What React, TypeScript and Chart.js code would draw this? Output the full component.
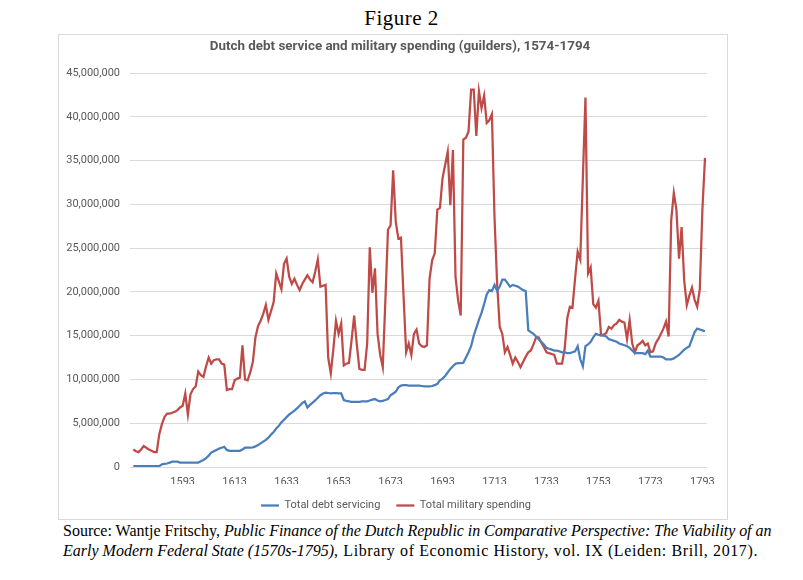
import { useEffect, useRef } from "react";
import { Chart, registerables } from "chart.js";

Chart.register(...registerables);

// Years covered by both series (one value per year)
const firstYear = 1574;
const lastYear = 1794;
const years: number[] = [];
for (let y = firstYear; y <= lastYear; y++) years.push(y);

// Years shown as labels on the horizontal axis
const tickYears = [1593, 1613, 1633, 1653, 1673, 1693, 1713, 1733, 1753, 1773, 1793];

// Total debt servicing, millions of guilders, 1574-1794
const debtServicing = [
  0.1, 0.1, 0.1, 0.1, 0.1, 0.1, 0.1, 0.1, 0.1, 0.1,
  0.1, 0.3, 0.35, 0.4, 0.5, 0.6, 0.6, 0.6, 0.5, 0.5,
  0.5, 0.5, 0.5, 0.5, 0.5, 0.5, 0.65, 0.8, 1.0, 1.3,
  1.65, 1.8, 1.95, 2.1, 2.2, 2.3, 1.95, 1.85, 1.83, 1.83,
  1.83, 1.85, 2.0, 2.2, 2.2, 2.2, 2.25, 2.35, 2.5, 2.7,
  2.9, 3.1, 3.35, 3.7, 4.0, 4.4, 4.7, 5.1, 5.4, 5.7,
  6.0, 6.2, 6.45, 6.7, 7.0, 7.3, 7.5, 6.8, 7.1, 7.35,
  7.6, 7.9, 8.2, 8.4, 8.5, 8.45, 8.4, 8.45, 8.45, 8.4,
  8.4, 7.65, 7.55, 7.5, 7.45, 7.45, 7.45, 7.45, 7.5, 7.5,
  7.5, 7.6, 7.7, 7.76, 7.6, 7.5, 7.55, 7.65, 7.76, 8.2,
  8.4, 8.6, 9.1, 9.3, 9.35, 9.35, 9.3, 9.3, 9.3, 9.3,
  9.3, 9.25, 9.2, 9.2, 9.2, 9.25, 9.35, 9.5, 9.9, 10.1,
  10.4, 10.8, 11.2, 11.5, 11.8, 11.85, 11.85, 11.9, 12.5, 13.1,
  13.8, 15.0, 15.9, 16.8, 17.6, 18.6, 19.7, 20.2, 20.1, 20.8,
  20.1, 20.6, 21.4, 21.4, 21.0, 20.6, 20.8, 20.7, 20.6, 20.4,
  20.2, 20.1, 15.6, 15.4, 15.2, 14.9, 14.6, 14.3, 14.0, 13.6,
  13.5, 13.4, 13.3, 13.3, 13.2, 13.1, 13.1, 13.0, 13.0, 13.1,
  13.2, 13.8, 12.3, 11.5, 13.8, 14.0, 14.3, 14.8, 15.2, 15.1,
  15.0, 15.0, 14.9, 14.6, 14.5, 14.4, 14.3, 14.1, 14.0, 13.9,
  13.8, 13.6, 13.3, 13.0, 13.0, 13.0, 13.0, 12.9, 13.3, 12.6,
  12.6, 12.6, 12.6, 12.6, 12.5, 12.3, 12.3, 12.3, 12.4, 12.6,
  12.8, 13.1, 13.4, 13.6, 13.8, 14.6, 15.4, 15.8, 15.7, 15.6,
  15.5,
];

// Total military spending, millions of guilders, 1574-1794
const militarySpending = [
  2.0, 1.8, 1.7, 2.0, 2.4, 2.2, 2.0, 1.85, 1.7, 1.7,
  3.75, 4.9, 5.7, 6.1, 6.1, 6.2, 6.3, 6.5, 6.8, 7.0,
  8.4, 6.0, 8.3, 8.9, 9.2, 10.9, 10.5, 10.3, 11.5, 12.5,
  11.8, 12.2, 12.3, 12.3, 11.8, 11.7, 8.8, 8.9, 8.9, 9.9,
  10.1, 10.2, 13.9, 10.0, 9.9, 10.8, 12.0, 14.8, 16.1, 16.7,
  17.5, 18.5, 16.8, 17.8, 18.8, 22.1, 21.2, 20.3, 23.2, 23.8,
  21.7, 20.9, 21.5, 20.8, 20.2, 20.9, 21.4, 21.9, 21.4, 21.1,
  22.3, 23.7, 20.6, 20.7, 20.8, 12.5, 10.7, 13.5, 16.7, 15.2,
  16.4, 11.6, 11.8, 11.9, 14.5, 17.3, 14.0, 11.2, 11.1, 11.1,
  14.1, 25.1, 19.9, 22.7, 15.2, 12.8, 11.4, 19.0, 27.1, 27.6,
  33.9, 28.0, 26.1, 26.2, 19.5, 13.1, 14.1, 12.8, 15.2, 15.7,
  14.1, 13.8, 13.7, 13.9, 21.5, 23.6, 24.4, 29.4, 29.6, 33.0,
  34.5, 36.0, 29.9, 36.2, 21.7, 19.0, 17.3, 37.4, 37.6, 38.3,
  43.1, 43.1, 37.8, 42.9, 41.0, 42.4, 39.3, 39.6, 40.3, 28.5,
  21.0, 16.0, 15.2, 13.1, 13.7, 12.8, 11.8, 12.5, 12.0, 11.4,
  12.0, 12.6, 13.1, 13.3, 14.0, 14.8, 14.8, 14.2, 13.7, 13.1,
  13.0, 12.9, 12.8, 11.8, 11.8, 11.8, 13.5, 17.0, 18.3, 18.2,
  21.5, 24.6, 23.7, 33.0, 42.2, 22.1, 22.8, 18.6, 18.2, 19.0,
  15.1, 15.1, 15.3, 16.0, 15.8, 16.2, 16.4, 16.8, 16.6, 16.5,
  14.6, 16.8, 14.1, 13.1, 13.9, 14.1, 14.4, 13.9, 14.1, 13.1,
  13.2, 14.1, 14.6, 15.2, 15.8, 16.6, 14.9, 28.2, 31.3, 29.4,
  23.8, 27.4, 21.3, 18.5, 19.6, 20.5, 19.1, 18.3, 20.3, 29.4,
  35.3,
];

const MILLION = 1000000;
const axisColor = "#595959";
const gridColor = "#D9D9D9";
const sansFamily = "Roboto, 'Liberation Sans', sans-serif";
const serifFamily = "'Liberation Serif', 'DejaVu Serif', serif";

// Moves the legend row sideways after layout so it sits centred under the frame
const legendOffset = {
  id: "legendOffset",
  afterLayout(chart: any) {
    const legend = chart.legend;
    if (legend) {
      legend.left += 13;
      legend.right += 13;
    }
  },
};

function DebtChart() {
  const canvasRef = useRef<HTMLCanvasElement | null>(null);

  useEffect(() => {
    const canvas = canvasRef.current;
    if (!canvas) return;
    const chart = new Chart(canvas, {
      type: "line",
      data: {
        datasets: [
          {
            label: "Total debt servicing",
            data: years.map((year, i) => ({ x: year, y: debtServicing[i] * MILLION })),
            borderColor: "#4A7EBB",
            backgroundColor: "#4A7EBB",
            borderWidth: 2.25,
            pointRadius: 0,
            tension: 0,
          },
          {
            label: "Total military spending",
            data: years.map((year, i) => ({ x: year, y: militarySpending[i] * MILLION })),
            borderColor: "#BE4B48",
            backgroundColor: "#BE4B48",
            borderWidth: 2.25,
            pointRadius: 0,
            tension: 0,
          },
        ],
      },
      options: {
        animation: false,
        responsive: false,
        devicePixelRatio: 1,
        layout: { padding: { left: 0, right: 20, top: 38, bottom: 0 } },
        plugins: {
          title: { display: false },
          legend: {
            position: "bottom",
            labels: {
              usePointStyle: true,
              pointStyle: "line",
              pointStyleWidth: 18,
              color: axisColor,
              font: { family: sansFamily, size: 11 },
              padding: 16,
            },
          },
          tooltip: { enabled: false },
        },
        scales: {
          x: {
            type: "linear",
            min: 1572.73,
            max: 1794.77,
            afterBuildTicks: (scale: any) => {
              scale.ticks = tickYears.map((v) => ({ value: v }));
            },
            afterFit: (scale: any) => {
              scale.height = 17;
            },
            ticks: {
              autoSkip: false,
              maxRotation: 0,
              color: axisColor,
              font: { family: sansFamily, size: 11 },
              padding: 1,
              callback: (v: any) => String(v),
            },
            grid: { display: false },
            border: { display: false },
          },
          y: {
            min: 0,
            max: 45 * MILLION,
            afterFit: (scale: any) => {
              scale.width = 71;
            },
            ticks: {
              stepSize: 5 * MILLION,
              color: axisColor,
              font: { family: sansFamily, size: 11 },
              padding: 10,
              callback: (v: any) => Number(v).toLocaleString("en-US"),
            },
            grid: { color: gridColor, drawTicks: false, lineWidth: 1 },
            border: { display: false },
          },
        },
      },
      plugins: [legendOffset],
    });
    return () => chart.destroy();
  }, []);

  return (
    <canvas
      ref={canvasRef}
      width={668}
      height={486}
      style={{ position: "absolute", left: 59, top: 35, width: 668, height: 486 }}
    />
  );
}

export default function App() {
  return (
    <div
      style={{
        position: "fixed",
        left: 0,
        top: 0,
        width: 803,
        height: 580,
        background: "#ffffff",
        overflow: "hidden",
      }}
    >
      <div
        style={{
          position: "absolute",
          left: 0,
          top: 6,
          width: 803,
          textAlign: "center",
          fontFamily: serifFamily,
          fontSize: 21,
          letterSpacing: 0.5,
          lineHeight: "24px",
          color: "#000",
        }}
      >
        Figure 2
      </div>
      <div
        style={{
          position: "absolute",
          left: 58,
          top: 34,
          width: 670,
          height: 486,
          border: `1px solid ${gridColor}`,
          boxSizing: "border-box",
        }}
      />
      <DebtChart />
      <div
        style={{
          position: "absolute",
          left: 0,
          top: 37,
          width: 800,
          textAlign: "center",
          fontFamily: sansFamily,
          fontWeight: "bold",
          fontSize: 13.4,
          lineHeight: "18px",
          color: axisColor,
        }}
      >
        Dutch debt service and military spending (guilders), 1574-1794
      </div>
      <div
        style={{
          position: "absolute",
          left: 63,
          top: 521,
          fontFamily: serifFamily,
          fontSize: 16,
          lineHeight: "20px",
          color: "#000",
          whiteSpace: "nowrap",
        }}
      >
        <div>
          Source: Wantje Fritschy,{" "}
          <i style={{ letterSpacing: -0.06 }}>
            Public Finance of the Dutch Republic in Comparative Perspective: The Viability of an
          </i>
        </div>
        <div>
          <i>Early Modern Federal State (1570s-1795)</i>
          <span style={{ letterSpacing: 0.6 }}>
            , Library of Economic History, vol. IX (Leiden: Brill, 2017).
          </span>
        </div>
      </div>
    </div>
  );
}
